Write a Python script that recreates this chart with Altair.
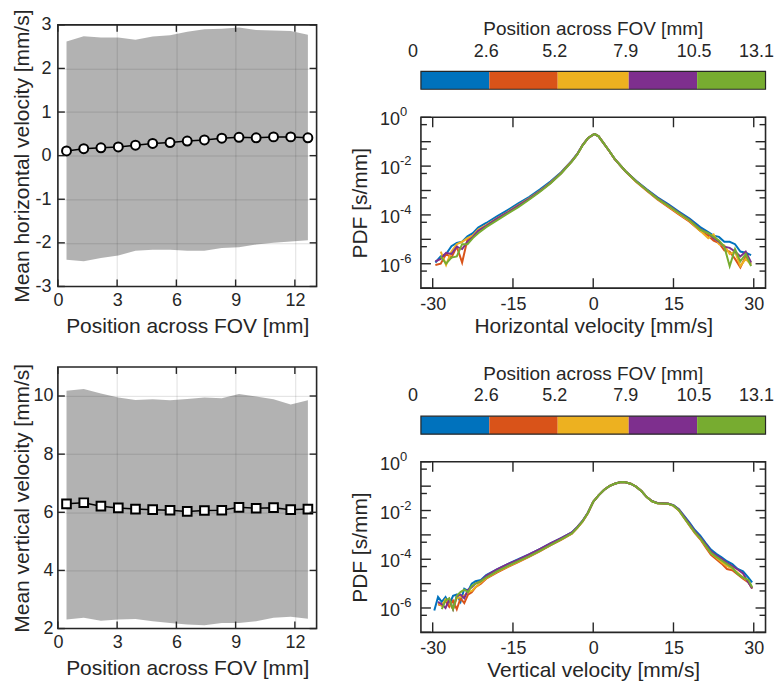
import altair as alt
import pandas as pd

FONT = "Liberation Sans"
INK = "#262626"
COLORS = ["#0072BD", "#D95319", "#EDB120", "#7E2F8E", "#77AC30"]
BIN_EDGES = [0, 2.6, 5.2, 7.9, 10.5, 13.1]
BIN_LABELS = ["0", "2.6", "5.2", "7.9", "10.5", "13.1"]
CB_TITLE = "Position across FOV [mm]"

# ---- left panels: mean velocity vs position (bin centres) ----
POS = [0.437, 1.31, 2.18, 3.06, 3.93, 4.80, 5.68, 6.55, 7.42, 8.30, 9.17, 10.04, 10.92, 11.79, 12.66]
H_MEAN = [0.107, 0.16, 0.18, 0.20, 0.24, 0.28, 0.30, 0.335, 0.36, 0.40, 0.42, 0.41, 0.43, 0.43, 0.41]
H_UP = [2.62, 2.74, 2.71, 2.71, 2.66, 2.73, 2.76, 2.84, 2.90, 2.91, 2.94, 2.88, 2.87, 2.86, 2.77]
H_LO = [-2.39, -2.42, -2.35, -2.29, -2.18, -2.16, -2.16, -2.18, -2.18, -2.12, -2.10, -2.04, -2.00, -1.97, -1.94]
V_MEAN = [6.29, 6.33, 6.21, 6.15, 6.11, 6.09, 6.07, 6.03, 6.06, 6.07, 6.17, 6.14, 6.16, 6.09, 6.11]
V_UP = [10.18, 10.24, 10.09, 9.95, 9.86, 9.89, 9.85, 9.90, 9.95, 9.92, 10.07, 9.98, 9.89, 9.71, 9.85]
V_LO = [2.31, 2.37, 2.27, 2.31, 2.33, 2.25, 2.19, 2.14, 2.11, 2.19, 2.19, 2.25, 2.37, 2.41, 2.34]

# ---- horizontal-velocity PDFs (log10 of PDF), series order: blue, orange, yellow, purple, green ----
HL_V = [-29.5, -28.5, -27.5, -26.5, -25.5, -24.5, -23.5, -22.5, -21.5]
HL = [
    [-5.95, -5.70, -5.60, -5.28, -5.15, -5.10, -4.88, -4.75, -4.52],
    [-6.05, -6.00, -5.60, -5.75, -5.30, -5.95, -5.00, -4.85, -4.65],
    [None, -5.50, -6.05, -5.50, -5.20, -5.10, -4.95, -4.85, -4.60],
    [-5.90, -5.80, -5.55, -5.60, -5.30, -5.40, -5.10, -4.90, -4.65],
    [None, -5.70, -6.00, -5.75, -5.70, -5.20, -5.20, -4.95, -4.75],
]
HC_V = [-20, -18, -16, -14, -12, -10, -8, -6, -4, -3, -2, -1, 0, 0.3, 1, 2, 3, 4, 6, 8, 10, 12, 14, 16, 18, 20]
HC = [
    [-4.33, -4.06, -3.80, -3.53, -3.27, -2.96, -2.63, -2.25, -1.78, -1.50, -1.14, -0.86, -0.71, -0.69, -0.78, -1.08, -1.38, -1.70, -2.20, -2.60, -2.95, -3.28, -3.56, -3.86, -4.15, -4.50],
    [-4.45, -4.16, -3.90, -3.63, -3.34, -3.03, -2.69, -2.28, -1.80, -1.52, -1.15, -0.86, -0.71, -0.69, -0.78, -1.08, -1.39, -1.71, -2.21, -2.64, -3.01, -3.37, -3.67, -3.98, -4.28, -4.66],
    [-4.42, -4.14, -3.88, -3.60, -3.32, -3.02, -2.68, -2.28, -1.80, -1.52, -1.15, -0.86, -0.71, -0.69, -0.78, -1.08, -1.38, -1.70, -2.20, -2.63, -2.99, -3.35, -3.64, -3.95, -4.25, -4.65],
    [-4.45, -4.15, -3.90, -3.62, -3.34, -3.03, -2.69, -2.29, -1.81, -1.52, -1.15, -0.86, -0.71, -0.69, -0.78, -1.08, -1.38, -1.70, -2.20, -2.61, -2.97, -3.31, -3.60, -3.90, -4.20, -4.58],
    [-4.50, -4.22, -3.95, -3.68, -3.38, -3.06, -2.71, -2.30, -1.82, -1.53, -1.16, -0.86, -0.71, -0.69, -0.78, -1.08, -1.38, -1.70, -2.20, -2.62, -2.98, -3.33, -3.62, -3.92, -4.22, -4.60],
]
HR_V = [21.5, 22.5, 23.5, 24.5, 25.5, 26.5, 27.5, 28.5, 29.5]
HR = [
    [-4.70, -4.85, -4.90, -5.10, -5.10, -5.20, -5.50, -5.55, -5.65],
    [-4.85, -5.05, -5.15, -5.45, -5.50, -5.80, -6.15, -5.70, -6.00],
    [-4.95, -4.80, -5.20, -5.25, -5.60, -5.50, -6.10, -5.80, -6.05],
    [-4.75, -4.95, -5.10, -5.30, -5.35, -5.50, -5.70, -5.50, -5.95],
    [-4.75, -4.90, -5.05, -5.30, -6.10, -5.40, -5.90, -5.60, -6.10],
]

# ---- vertical-velocity PDFs (log10 of PDF) ----
VL_V = [-29.7, -29, -28.3, -27.6, -26.9, -26.2, -25.5, -24.8, -24.1, -23.4, -22.7, -22, -21]
VL = [
    [-6.10, -5.55, -5.75, -5.55, -5.85, -5.50, -5.45, -5.75, -5.21, -5.30, -5.00, -4.90, -4.85],
    [None, -5.85, -5.90, -5.70, -5.95, -5.70, -6.05, -5.60, -5.80, -5.45, -5.35, -5.15, -5.00],
    [None, -5.80, -5.90, -5.65, -5.80, -6.05, -5.60, -5.55, -5.50, -5.35, -5.30, -5.15, -4.95],
    [None, -5.75, -5.85, -6.00, -5.65, -6.05, -5.50, -5.45, -5.60, -5.25, -5.15, -5.00, -4.90],
    [None, None, -6.05, -5.70, -5.60, -6.05, -5.50, -5.35, -5.25, -5.35, -5.10, -5.00, -4.90],
]
VC_V = [-20, -18, -16, -14, -12, -10, -8, -6, -4, -3, -2, -1, 0, 1, 2, 3, 4, 5, 5.5, 6, 7, 8, 9, 10, 11, 12, 13, 14, 15, 16, 17, 18, 19, 20]
VC = [
    [-4.65, -4.42, -4.20, -4.00, -3.80, -3.58, -3.35, -3.13, -2.90, -2.68, -2.43, -2.09, -1.64, -1.38, -1.16, -1.00, -0.90, -0.84, -0.83, -0.84, -0.90, -1.02, -1.20, -1.45, -1.62, -1.70, -1.71, -1.72, -1.78, -1.95, -2.22, -2.50, -2.80, -3.03],
    [-4.80, -4.55, -4.32, -4.12, -3.90, -3.68, -3.43, -3.20, -2.95, -2.72, -2.46, -2.11, -1.64, -1.38, -1.16, -1.00, -0.90, -0.84, -0.83, -0.84, -0.90, -1.02, -1.20, -1.45, -1.62, -1.70, -1.71, -1.72, -1.81, -2.00, -2.30, -2.62, -2.93, -3.18],
    [-4.78, -4.52, -4.30, -4.10, -3.88, -3.66, -3.41, -3.18, -2.94, -2.71, -2.45, -2.10, -1.64, -1.38, -1.16, -1.00, -0.90, -0.84, -0.83, -0.84, -0.90, -1.02, -1.20, -1.45, -1.62, -1.70, -1.71, -1.72, -1.80, -1.99, -2.29, -2.60, -2.90, -3.15],
    [-4.68, -4.42, -4.20, -4.02, -3.80, -3.58, -3.35, -3.13, -2.90, -2.68, -2.43, -2.09, -1.64, -1.38, -1.16, -1.00, -0.90, -0.84, -0.83, -0.84, -0.90, -1.02, -1.20, -1.45, -1.61, -1.69, -1.70, -1.71, -1.79, -1.96, -2.25, -2.55, -2.85, -3.10],
    [-4.75, -4.50, -4.28, -4.08, -3.88, -3.66, -3.42, -3.18, -2.94, -2.71, -2.45, -2.10, -1.64, -1.38, -1.16, -1.00, -0.90, -0.84, -0.83, -0.84, -0.90, -1.02, -1.20, -1.45, -1.62, -1.70, -1.71, -1.72, -1.80, -1.99, -2.30, -2.60, -2.90, -3.14],
]
VR_V = [21, 22, 23, 24, 25, 26, 27, 28, 29, 29.7]
VR = [
    [-3.33, -3.60, -3.78, -3.92, -4.08, -4.20, -4.40, -4.50, -4.75, -4.95],
    [-3.50, -3.82, -4.00, -4.18, -4.40, -4.45, -4.62, -4.80, -4.95, -5.20],
    [-3.45, -3.76, -3.93, -4.12, -4.28, -4.38, -4.55, -4.75, -4.90, -5.20],
    [-3.38, -3.68, -3.84, -3.98, -4.15, -4.28, -4.42, -4.58, -4.95, -5.20],
    [-3.44, -3.74, -3.90, -4.05, -4.20, -4.35, -4.60, -4.75, -4.85, -5.15],
]

X_TICKS_L = [0, 3, 6, 9, 12]
H_YTICKS = [-3, -2, -1, 0, 1, 2, 3]
V_YTICKS = [2, 4, 6, 8, 10]
PDF_XTICKS = [-30, -15, 0, 15, 30]
PDF_MAJOR = [1, 1e-1, 1e-2, 1e-3, 1e-4, 1e-5, 1e-6, 1e-7]
PDF_MINOR = [0.5, 5e-2, 5e-3, 5e-4, 5e-5, 5e-6, 5e-7]
PDF_LABELED = [1, 1e-2, 1e-4, 1e-6]
PDF_EXPONENTS = ["0", "-2", "-4", "-6"]

W_L, H_L = 259.4, 262.3
W_R = 345.5
HYPHEN = "replace(datum.label, '\u2212', '-')"


def pdf_frame(lv, lt, cv, cc, rv, rt):
    rows = []
    for k in range(5):
        for v, l in zip(lv + cv + rv, lt[k] + cc[k] + rt[k]):
            if l is None:
                continue
            rows.append({"v": v, "p": 10 ** l, "s": k + 1})
    return pd.DataFrame(rows)


def rule(df, **enc):
    return alt.Chart(df).mark_rule(color=INK, strokeWidth=1.4).encode(**enc)


def side_panel(mean, up, lo, ydom, yticks, ytitle, shape, size, lpad, tpad):
    df = pd.DataFrame({"pos": POS, "m": mean, "up": up, "lo": lo})
    xs = alt.Scale(domain=[0, 13.1], nice=False, zero=False)
    ys = alt.Scale(domain=ydom, nice=False, zero=False)
    yax = alt.Axis(values=yticks, title=ytitle, grid=True, labelPadding=lpad, titlePadding=tpad,
                   labelExpr=HYPHEN)
    X = alt.X("pos:Q", scale=xs, axis=alt.Axis(values=X_TICKS_L, title="Position across FOV [mm]",
                                                grid=True, labelPadding=5, titlePadding=6))
    Y = alt.Y("m:Q", scale=ys, axis=yax)
    band = alt.Chart(df).mark_area(color="black", opacity=0.3).encode(
        x=X, y=alt.Y("lo:Q", scale=ys, axis=yax), y2="up:Q")
    line = alt.Chart(df).mark_line(color="black", strokeWidth=1.5).encode(x=X, y=Y)
    pts = alt.Chart(df).mark_point(shape=shape, filled=True, fill="white", stroke="black",
                                   strokeWidth=2, size=size, opacity=1).encode(x=X, y=Y)
    xt = pd.DataFrame({"pos": X_TICKS_L})
    yt = pd.DataFrame({"m": yticks})
    L = 7
    ticks = [
        rule(xt, x=X, y=alt.value(H_L), y2=alt.value(H_L - L)),
        rule(xt, x=X, y=alt.value(0), y2=alt.value(L)),
        rule(yt, y=Y, x=alt.value(0), x2=alt.value(L)),
        rule(yt, y=Y, x=alt.value(W_L - L), x2=alt.value(W_L)),
    ]
    return alt.layer(band, line, pts, *ticks).properties(width=W_L, height=H_L)


def colorbar(H, bar_top, label_y, title_y):
    xs = alt.Scale(domain=[0, 13.1], nice=False, zero=False)
    X = alt.X("lo:Q", scale=xs, axis=None)
    cb = pd.DataFrame({"lo": BIN_EDGES[:-1], "hi": BIN_EDGES[1:], "k": [1, 2, 3, 4, 5]})
    rects = alt.Chart(cb).mark_rect(strokeWidth=0).encode(
        x=X, x2="hi:Q", y=alt.value(bar_top), y2=alt.value(H),
        color=alt.Color("k:N", scale=alt.Scale(domain=[1, 2, 3, 4, 5], range=COLORS), legend=None))
    frame = alt.Chart(pd.DataFrame({"lo": [BIN_EDGES[0]], "hi": [BIN_EDGES[-1]]})).mark_rect(
        fillOpacity=0, stroke=INK, strokeWidth=1.2).encode(x=X, x2="hi:Q", y=alt.value(bar_top), y2=alt.value(H))
    lab = pd.DataFrame({"lo": BIN_EDGES, "t": BIN_LABELS})
    txt = dict(font=FONT, fontSize=18, color=INK, baseline="middle")
    mid = alt.Chart(lab.iloc[1:-1]).mark_text(dx=-3, **txt).encode(x=X, y=alt.value(label_y), text="t:N")
    first = alt.Chart(lab.iloc[:1]).mark_text(dx=-8, **txt).encode(x=X, y=alt.value(label_y), text="t:N")
    last = alt.Chart(lab.iloc[-1:]).mark_text(dx=-9, **txt).encode(x=X, y=alt.value(label_y), text="t:N")
    title = alt.Chart(pd.DataFrame({"t": [CB_TITLE]})).mark_text(
        font=FONT, fontSize=19, color=INK, baseline="middle").encode(
        x=alt.value(W_R / 2), y=alt.value(title_y), text="t:N")
    return alt.layer(rects, frame, mid, first, last, title).properties(
        width=W_R, height=H, view=alt.ViewBackground(strokeOpacity=0))


def pdf_panel(df, H, xtitle):
    xs = alt.Scale(domain=[-32.2, 32.2], nice=False, zero=False)
    ys = alt.Scale(type="log", domain=[1e-7, 1], nice=False)
    X = alt.X("v:Q", scale=xs, axis=alt.Axis(values=PDF_XTICKS, title=xtitle, grid=False,
                                              labelPadding=7, titlePadding=2, labelExpr=HYPHEN))
    Y = alt.Y("p:Q", scale=ys, axis=alt.Axis(values=PDF_LABELED, labelExpr="'10'", title="PDF [s/mm]",
                                              grid=False, labelPadding=21.5, labelOffset=2.5, titlePadding=9))
    lines = alt.Chart(df).mark_line(strokeWidth=2, clip=True).encode(
        x=X, y=Y, color=alt.Color("s:N", scale=alt.Scale(domain=[1, 2, 3, 4, 5], range=COLORS), legend=None))
    exps = alt.Chart(pd.DataFrame({"p": PDF_LABELED, "e": PDF_EXPONENTS})).mark_text(
        font=FONT, fontSize=13, color=INK, align="left", baseline="middle", dy=-5).encode(
        y=Y, x=alt.value(-21), text="e:N")
    xt = pd.DataFrame({"v": PDF_XTICKS})
    yM = pd.DataFrame({"p": PDF_MAJOR})
    ym = pd.DataFrame({"p": PDF_MINOR})
    ticks = [
        rule(xt, x=X, y=alt.value(H), y2=alt.value(H - 10)),
        rule(xt, x=X, y=alt.value(0), y2=alt.value(10)),
        rule(yM, y=Y, x=alt.value(0), x2=alt.value(10)),
        rule(yM, y=Y, x=alt.value(W_R - 10), x2=alt.value(W_R)),
        rule(ym, y=Y, x=alt.value(0), x2=alt.value(6)),
        rule(ym, y=Y, x=alt.value(W_R - 6), x2=alt.value(W_R)),
    ]
    return alt.layer(lines, exps, *ticks).properties(width=W_R, height=H)


tl = side_panel(H_MEAN, H_UP, H_LO, [-3, 3], H_YTICKS, "Mean horizontal velocity [mm/s]", "circle", 80, 7, 2.5)
bl = side_panel(V_MEAN, V_UP, V_LO, [2, 11], V_YTICKS, "Mean vertical velocity [mm/s]", "square", 75, 5, 0.5)

pdf_h = pdf_frame(HL_V, HL, HC_V, HC, HR_V, HR)
pdf_v = pdf_frame(VL_V, VL, VC_V, VC, VR_V, VR)

left_col = alt.vconcat(tl, bl, spacing=80, bounds="flush")
right_col = alt.vconcat(
    colorbar(64.6, 46.6, 27.3, 4.3),
    pdf_panel(pdf_h, 171.3, "Horizontal velocity [mm/s]"),
    colorbar(118, 100, 80, 57.7),
    pdf_panel(pdf_v, 171, "Vertical velocity [mm/s]"),
    spacing=27.7, bounds="flush")

# nested concat groups count as zero-size in a flush layout, so the column offset is the full step
chart = alt.hconcat(left_col, right_col, spacing=364, bounds="flush").properties(
    padding={"left": 2, "top": -1, "right": 0, "bottom": 0}
).configure_view(stroke=INK, strokeWidth=1.6).configure_axis(
    labelFont=FONT, titleFont=FONT, labelFontSize=18, titleFontSize=21, labelColor=INK, titleColor=INK,
    titleFontWeight="normal", domain=False, ticks=False, tickSize=0, labelPadding=8,
    gridColor=INK, gridOpacity=0.15, gridWidth=1, labelFlush=False, labelOverlap=False, labelBound=False
)

chart.save("out.html", embed_options={"renderer": "svg", "actions": False})
